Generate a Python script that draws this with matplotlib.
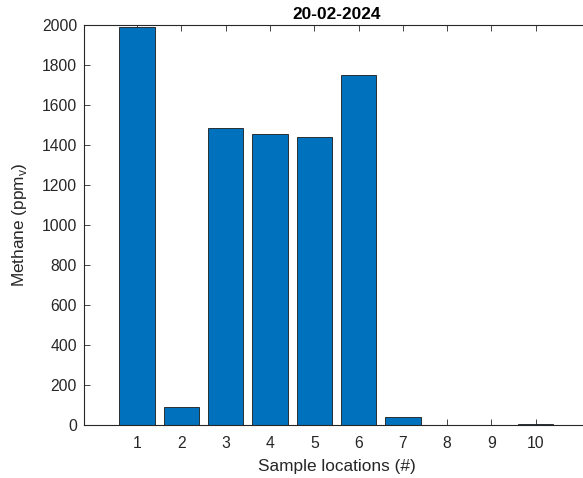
import matplotlib
matplotlib.use("Agg")
import matplotlib.pyplot as plt

plt.rcParams["font.family"] = ["Liberation Sans", "DejaVu Sans"]
plt.rcParams["mathtext.fontset"] = "custom"
plt.rcParams["mathtext.rm"] = "Liberation Sans"

# methane readings per sample location
locaciones = [1, 2, 3, 4, 5, 6, 7, 8, 9, 10]
metano = [1990, 90, 1485, 1453, 1442, 1750, 40, 2, 2, 7]

gris = "#262626"

fig = plt.figure(figsize=(5.83, 4.78), dpi=100)
ax = fig.add_axes([0.1441, 0.1109, 0.866, 0.8368])

ax.bar(locaciones, metano, width=0.8, color="#0072BD", edgecolor="#1a1a1a", linewidth=0.6, zorder=2)

ax.set_xlim(-0.2, 11.2)
ax.set_ylim(0, 2000)
ax.set_xticks(locaciones)
ax.set_yticks(range(0, 2001, 200))

for s in ax.spines.values():
    s.set_color(gris)
    s.set_linewidth(0.8)
ax.spines["right"].set_visible(False)

ax.tick_params(direction="in", length=4.5, width=0.6, colors=gris, labelsize=11.3,
               top=True, right=False, pad=5)
ax.tick_params(axis="x", pad=8)

ax.set_xlabel("Sample locations (#)", fontsize=12.4, color=gris, labelpad=6)
ax.set_ylabel("Methane (ppm$_{\\mathregular{v}}$)", fontsize=12.4, color=gris, labelpad=9)
ax.set_title("20-02-2024", fontsize=12.4, fontweight="bold", color="black", pad=4)

fig.savefig("out.png", dpi=100)
plt.close(fig)
